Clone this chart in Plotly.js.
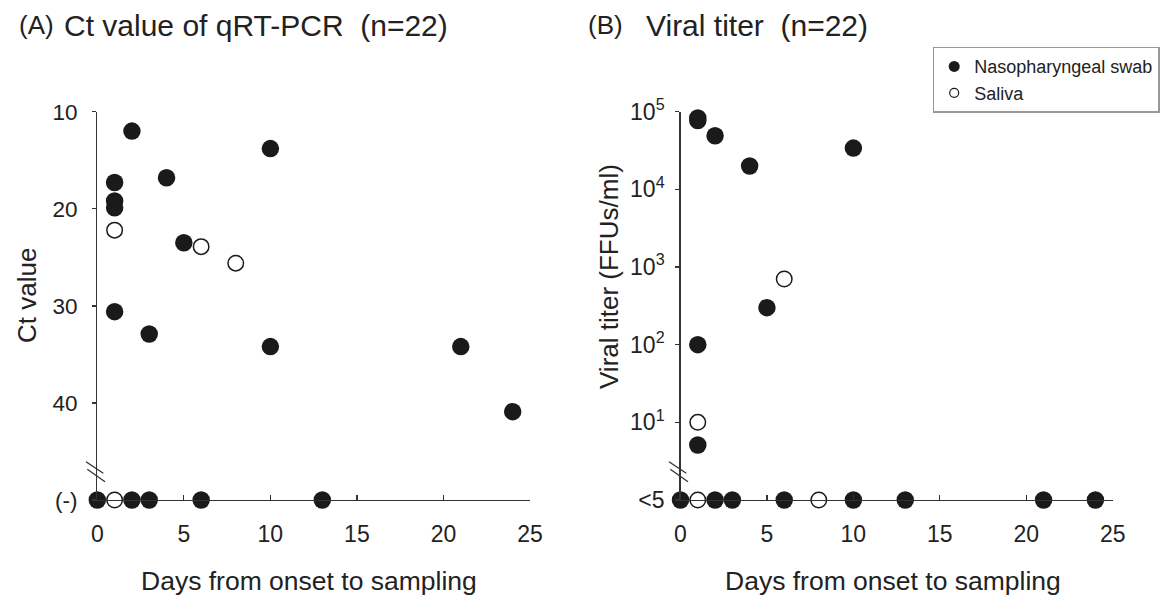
<!DOCTYPE html>
<html>
<head>
<meta charset="utf-8">
<script src="https://cdn.plot.ly/plotly-3.0.1.min.js"></script>
<style>html,body{margin:0;padding:0;background:#fff;}#chart{width:1162px;height:602px;}</style>
</head>
<body>
<div id="chart"></div>
<script>
// ---------------- data ----------------
// (A) Ct value of qRT-PCR
const ctNasoDays   = [2, 10, 4, 1, 1, 1, 5, 1, 3, 10, 21, 24];
const ctNasoValues = [12.0, 13.8, 16.8, 17.3, 19.2, 19.9, 23.5, 30.6, 32.9, 34.2, 34.2, 40.9];
const ctNasoNegDays = [0, 2, 3, 6, 13];          // Ct (-)
const ctSalDays    = [1, 6, 8];
const ctSalValues  = [22.2, 23.9, 25.6];
const ctSalNegDays = [1];                        // Ct (-)

// (B) Viral titer (FFUs/ml)
const tiNasoDays   = [1, 1, 2, 4, 10, 5, 1, 1];
const tiNasoValues = [83000, 77000, 49000, 20000, 34000, 300, 100, 5.1];
const tiNasoNegDays = [0, 2, 3, 6, 10, 13, 21, 24];   // <5
const tiSalDays    = [6, 1];
const tiSalValues  = [700, 10];
const tiSalNegDays = [1, 8];                     // <5

// tick labels
const xTickVals = [0, 5, 10, 15, 20, 25];
const ctTickVals = [10, 20, 30, 40, 50];
const ctTickText = ['10', '20', '30', '40', '(-)'];
const tiTickVals = [1, 10, 100, 1000, 10000, 100000];
const tiTickText = ['<5', '10<sup>1</sup>', '10<sup>2</sup>', '10<sup>3</sup>', '10<sup>4</sup>', '10<sup>5</sup>'];

const CT_NEG_LEVEL = 50;   // axis level used for "(-)"
const TI_NEG_LEVEL = 1;    // axis level used for "<5"

// ---------------- helpers ----------------
const W = 1162, H = 602;
const px = x => x / W;
const py = y => 1 - y / H;
const FONT = 'Liberation Sans, Arial, Helvetica, sans-serif';
const INK = '#1a1a1a';
const LINE = '#333';

const filled = {symbol: 'circle', size: 17.5, color: INK, line: {width: 0}};
const open = {symbol: 'circle-open', size: 15.5, color: INK, line: {width: 1.5, color: INK}};

const traces = [
  {type: 'scatter', mode: 'markers', xaxis: 'x', yaxis: 'y', showlegend: false, cliponaxis: false,
   x: ctNasoDays.concat(ctNasoNegDays),
   y: ctNasoValues.concat(ctNasoNegDays.map(() => CT_NEG_LEVEL)), marker: filled, hoverinfo: 'x+y'},
  {type: 'scatter', mode: 'markers', xaxis: 'x', yaxis: 'y', showlegend: false, cliponaxis: false,
   x: ctSalDays.concat(ctSalNegDays),
   y: ctSalValues.concat(ctSalNegDays.map(() => CT_NEG_LEVEL)), marker: open, hoverinfo: 'x+y'},
  {type: 'scatter', mode: 'markers', xaxis: 'x2', yaxis: 'y2', showlegend: false, cliponaxis: false,
   x: tiNasoDays.concat(tiNasoNegDays),
   y: tiNasoValues.concat(tiNasoNegDays.map(() => TI_NEG_LEVEL)), marker: filled, hoverinfo: 'x+y'},
  {type: 'scatter', mode: 'markers', xaxis: 'x2', yaxis: 'y2', showlegend: false, cliponaxis: false,
   x: tiSalDays.concat(tiSalNegDays),
   y: tiSalValues.concat(tiSalNegDays.map(() => TI_NEG_LEVEL)), marker: open, hoverinfo: 'x+y'},
  // legend entries
  {type: 'scatter', mode: 'markers', xaxis: 'x2', yaxis: 'y2', name: 'Nasopharyngeal swab',
   x: [null], y: [null], marker: {symbol: 'circle', size: 11, color: INK}},
  {type: 'scatter', mode: 'markers', xaxis: 'x2', yaxis: 'y2', name: 'Saliva',
   x: [null], y: [null], marker: {symbol: 'circle-open', size: 9, color: INK, line: {width: 1.2, color: INK}}}
];

const xCommon = {
  range: [0, 25], tickvals: xTickVals, ticks: 'inside', ticklen: 5, tickwidth: 1.3, tickcolor: LINE,
  showline: true, linecolor: LINE, linewidth: 1.3, showgrid: false, zeroline: false,
  tickfont: {family: FONT, size: 23, color: '#222'}, ticklabelstandoff: 13, fixedrange: true
};
const yCommon = {
  ticks: 'outside', ticklen: 4, tickwidth: 1.3, tickcolor: LINE,
  showline: true, linecolor: LINE, linewidth: 1.3, showgrid: false, zeroline: false,
  tickfont: {family: FONT, size: 22.5, color: '#222'}, ticklabelstandoff: 10, fixedrange: true,
  domain: [py(500), py(111.7)]
};

const shapes = [];
function breakMarks(x0) {
  // two short diagonal strokes on the y-axis
  [[-11.5, 461.7, 5.8, 473.3], [-10.2, 469.3, 7.5, 481.7]].forEach(s => {
    shapes.push({type: 'line', xref: 'paper', yref: 'paper',
      x0: px(x0 + s[0]), y0: py(s[1]), x1: px(x0 + s[2]), y1: py(s[3]),
      line: {color: LINE, width: 1.3}});
  });
}
breakMarks(97.5);
breakMarks(680.5);

function ann(text, x, y, size, opts) {
  return Object.assign({xref: 'paper', yref: 'paper', x: px(x), y: py(y), text: text, showarrow: false,
    xanchor: 'left', yanchor: 'middle', font: {family: FONT, size: size, color: '#222'}}, opts || {});
}

const annotations = [
  ann('(A)', 17, 25, 26),
  ann('Ct value of qRT-PCR\u00a0\u00a0(n=22)', 62, 26, 30),
  ann('(B)', 586, 25, 26),
  ann('Viral titer\u00a0\u00a0(n=22)', 644, 26, 30),
  ann('Days from onset to sampling', 309, 581, 26.5, {xanchor: 'center'}),
  ann('Days from onset to sampling', 893, 581, 26.5, {xanchor: 'center'}),
  ann('Ct value', 27, 296, 26, {xanchor: 'center', textangle: -90}),
  ann('Viral titer (FFUs/ml)', 609, 277, 26, {xanchor: 'center', textangle: -90})
];

const layout = {
  width: W, height: H, margin: {l: 0, r: 0, t: 0, b: 0},
  paper_bgcolor: '#fff', plot_bgcolor: 'rgba(0,0,0,0)',
  font: {family: FONT, color: '#222'},
  xaxis: Object.assign({}, xCommon, {domain: [px(97.3), px(530)], anchor: 'y'}),
  yaxis: Object.assign({}, yCommon, {range: [50, 10], tickvals: ctTickVals, ticktext: ctTickText, anchor: 'x'}),
  xaxis2: Object.assign({}, xCommon, {domain: [px(680.5), px(1112.7)], anchor: 'y2'}),
  yaxis2: Object.assign({}, yCommon, {type: 'log', range: [0, 5], tickvals: tiTickVals, ticktext: tiTickText,
    anchor: 'x2', ticklabelstandoff: 6, tickfont: {family: FONT, size: 23, color: '#222'}}),
  showlegend: true,
  legend: {x: px(932.7), y: py(46.7), xanchor: 'left', yanchor: 'top', bgcolor: '#fff',
    bordercolor: '#999', borderwidth: 1.5, font: {family: FONT, size: 18, color: '#222'},
    itemclick: false, itemdoubleclick: false},
  shapes: shapes,
  annotations: annotations
};

Plotly.newPlot('chart', traces, layout, {displayModeBar: false, staticPlot: true});
</script>
</body>
</html>
